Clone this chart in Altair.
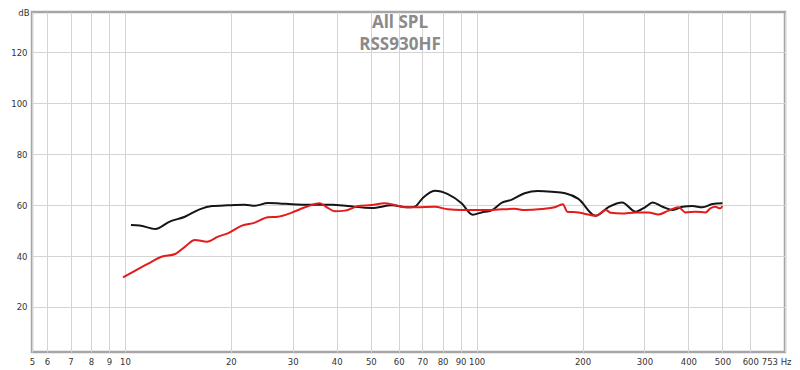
import altair as alt
import pandas as pd

# Black curve (frequency Hz, SPL dB)
black_freq = [10.4, 11.0, 12.2, 13.4, 14.8, 16.3, 17.7, 19.6, 21.9, 23.4, 25.5, 27.5, 29.8, 34.0,
              38.8, 43.0, 50.3, 57.4, 63.6, 66.6, 70.0, 76.0, 82.8, 90.6, 97.4, 103.3, 110.0, 118.0,
              125.4, 136.9, 149.3, 163.6, 178.5, 194.7, 217.8, 237.7, 259.3, 282.8, 302.4, 316.5,
              337.9, 361.0, 385.0, 410.8, 438.7, 468.6, 500.0]
black_db = [52.2, 52.0, 50.6, 53.5, 55.4, 58.3, 59.6, 59.9, 60.1, 59.7, 60.8, 60.6, 60.3, 60.1,
            60.1, 59.6, 58.8, 59.9, 59.1, 59.3, 62.5, 65.6, 64.3, 60.7, 56.2, 57.1, 57.8, 60.9,
            62.0, 64.6, 65.5, 65.2, 64.6, 62.4, 55.8, 59.3, 61.0, 57.4, 59.3, 61.0,
            59.3, 58.0, 59.3, 59.6, 59.1, 60.4, 60.7]

# Red curve (frequency Hz, SPL dB)
red_freq = [9.87, 10.67, 11.6, 12.7, 13.9, 14.8, 15.8, 17.1, 18.4, 19.6, 21.5, 23.4, 25.5, 27.2,
            29.8, 32.5, 35.8, 37.5, 39.5, 42.2, 46.0, 50.3, 54.7, 58.5, 62.5, 67.4, 76.0, 82.8,
            90.6, 103.0, 118.0, 128.0, 137.0, 153.0, 166.7, 175.8, 181.0, 194.7, 203.8, 217.8,
            232.9, 240.3, 259.3, 282.8, 308.0, 329.0, 351.0, 374.9, 392.9, 419.6, 447.6, 462.0,
            477.0, 492.6, 500.0]
red_db = [31.6, 34.2, 36.9, 39.7, 40.8, 43.6, 46.3, 45.6, 47.6, 48.9, 51.9, 53.1, 55.2, 55.4,
          57.0, 59.1, 60.7, 59.1, 57.6, 57.8, 59.6, 60.0, 60.7, 60.0, 59.1, 59.1, 59.3, 58.3,
          58.0, 58.0, 58.3, 58.5, 58.0, 58.4, 59.1, 60.3, 57.4, 57.1, 56.5, 55.8,
          58.0, 57.0, 56.7, 57.1, 57.1, 56.3, 57.8, 59.1, 57.1, 57.4, 57.1, 58.7,
          59.3, 58.7, 59.6]

series_names = ["RSS930HF black", "RSS930HF red"]
series_colors = ["#151515", "#e31b1b"]

x_ticks = [5.44, 6, 7, 8, 9, 10, 20, 30, 40, 50, 60, 70, 80, 90, 100, 200, 300, 400, 500, 600, 753]
y_ticks = [20, 40, 60, 80, 100, 120]
title_lines = ["All SPL", "RSS930HF"]

df = pd.concat([
    pd.DataFrame({"freq": black_freq, "db": black_db, "series": series_names[0]}),
    pd.DataFrame({"freq": red_freq, "db": red_db, "series": series_names[1]}),
])

lines = alt.Chart(df).mark_line(strokeWidth=2, interpolate="monotone").encode(
    x=alt.X("freq:Q",
            scale=alt.Scale(type="log", domain=[5.44, 753], nice=False),
            axis=alt.Axis(values=x_ticks, title=None, grid=True, ticks=False, domain=False,
                          labelExpr="datum.value < 5.5 ? '5' : (datum.value > 750 ? '753 Hz' : format(datum.value, 'd'))",
                          labelAlign={"condition": {"test": "datum.value > 750", "value": "right"}, "value": "center"},
                          labelOffset={"condition": {"test": "datum.value > 750", "value": 6}, "value": 0},
                          labelOverlap=False, labelFlush=False, labelPadding=5)),
    y=alt.Y("db:Q",
            scale=alt.Scale(domain=[2.35, 135.7], nice=False, zero=False),
            axis=alt.Axis(values=y_ticks, title="dB", titleAngle=0, titleX=-3, titleY=-4,
                          titleAlign="right", titleBaseline="top", titleFontWeight="normal",
                          grid=True, ticks=False, domain=False, labelPadding=5)),
    color=alt.Color("series:N", scale=alt.Scale(domain=series_names, range=series_colors), legend=None),
)

title = alt.Chart(alt.Data(values=[{}])).mark_text(
    text=title_lines, font="Open Sans", fontSize=17, fontWeight="bold", color="#8a8a8a",
    lineHeight=22, align="center", baseline="alphabetic",
).encode(x=alt.value(368), y=alt.value(16))

chart = alt.layer(lines, title).properties(
    width=753, height=340,
    autosize=alt.AutoSizeParams(type="none"),
    padding={"left": 24, "top": 4, "right": 7, "bottom": 16},
    background="white",
).configure_view(
    stroke="#a6a6a6", strokeWidth=2.5
).configure_axis(
    gridColor="#d4d4d4", gridWidth=1, labelFont="DejaVu Sans", labelFontSize=8.5,
    labelColor="#333333", titleFont="DejaVu Sans", titleFontSize=8.5, titleColor="#333333",
)

chart.save("out.html", embed_options={"renderer": "svg", "actions": False})
